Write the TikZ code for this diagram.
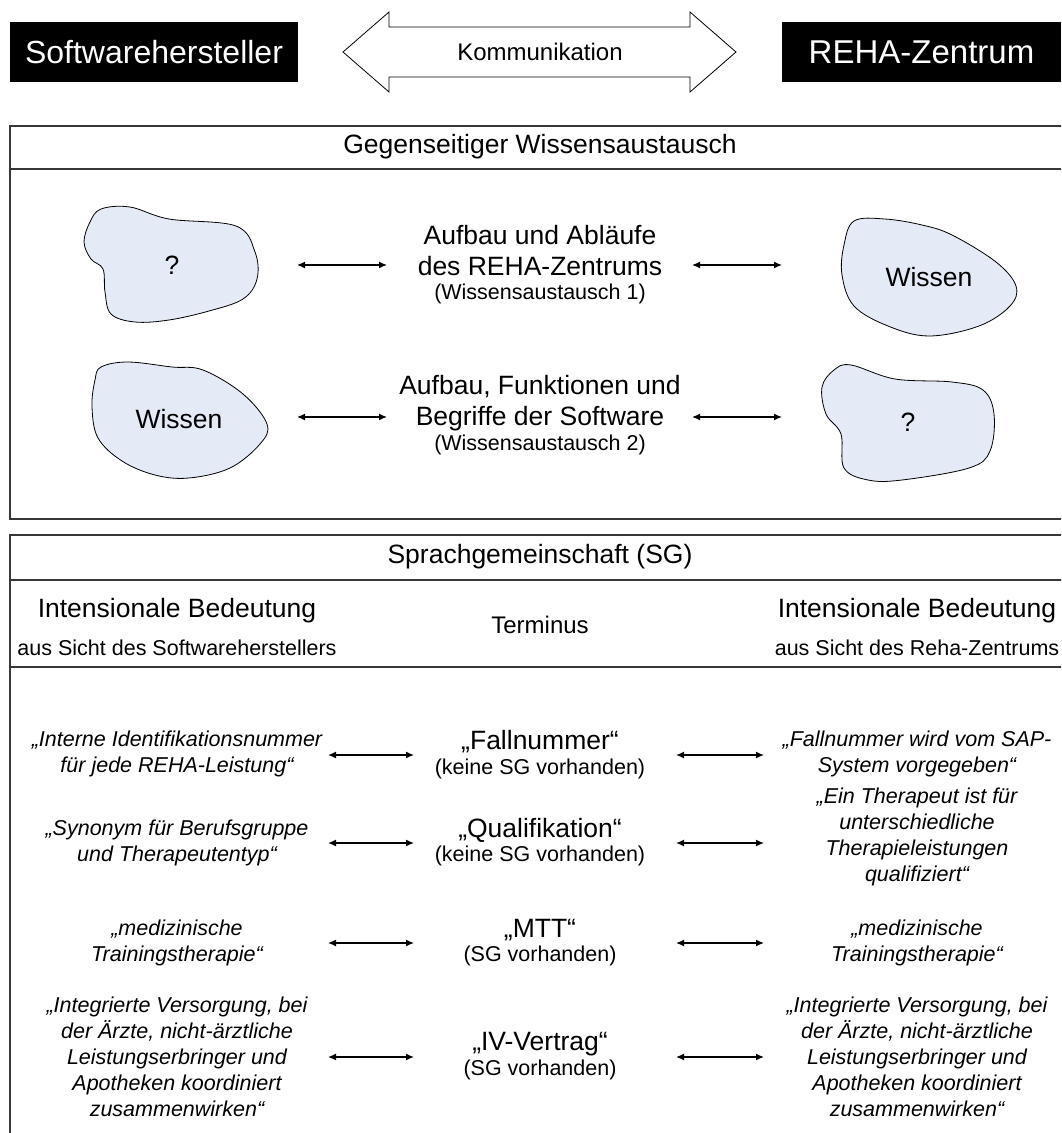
\documentclass[tikz,border=0pt]{standalone}
\usepackage{fontspec}
\setmainfont{Liberation Sans}
\usetikzlibrary{arrows.meta}
\definecolor{blobfill}{RGB}{228,234,246}
\definecolor{framegray}{RGB}{55,55,55}

\begin{document}
\begin{tikzpicture}[x=1pt,y=-1pt,
  big/.style={font=\fontsize{26.5}{31}\selectfont, inner sep=0pt, align=center},
  small/.style={font=\fontsize{21.5}{26}\selectfont, inner sep=0pt, align=center},
  quote/.style={font=\fontsize{21.5}{26}\selectfont\itshape, inner sep=0pt, align=center},
  party/.style={fill=black, text=white, font=\fontsize{32}{36}\selectfont, inner sep=0pt, minimum height=60pt},
  frame/.style={draw=framegray, line width=1.3pt},
  blob/.style={draw=black, fill=blobfill, line width=0.8pt},
  link/.style={{Latex[length=8pt,width=7pt]}-{Latex[length=8pt,width=7pt]}, line width=1.3pt},
]
\useasboundingbox (0,0) rectangle (1061,1133);
\clip (0,0) rectangle (1061,1133);

% --- the two parties and the communication arrow
\node[party, minimum width=288pt] (sw) at (154,52) {Softwarehersteller};
\node[party, minimum width=279pt, font=\fontsize{33}{36}\selectfont] (reha) at (921.5,52) {REHA-Zentrum};
\draw[line width=0.8pt, fill=white]
  (343,52) -- (389,12) -- (389,27) -- (690,27) -- (690,12) -- (736,52)
  -- (690,92) -- (690,77) -- (389,77) -- (389,92) -- cycle;
\node[small, font=\fontsize{24}{28}\selectfont] (komm) at (540,52) {Kommunikation};

% --- upper frame: mutual knowledge exchange
\draw[frame] (10,126) rectangle (1080,519);
\draw[frame] (10,169) -- (1080,169);
\node[big] (wa) at (540,147) {Gegenseitiger Wissensaustausch};

% knowledge blobs
\draw[blob] plot[smooth cycle, tension=0.6] coordinates {
  (101,209) (130,207) (169,219) (236,226) (255,252) (257,279) (243,299)
  (209,311) (169,320) (135,322) (111,314) (105,292) (103,269) (91,259)
  (84,242) (90,222)};
\node[big] (q1) at (172,265) {?};

\draw[blob] plot[smooth cycle, tension=0.6] coordinates {
  (101,367) (128,362) (172,367) (203,370) (243,394) (267,424) (260,444)
  (230,468) (189,478) (155,475) (122,461) (98,438) (92,407) (95,380)};
\node[big] (w2) at (179,419) {Wissen};

\draw[blob] plot[smooth cycle, tension=0.6] coordinates {
  (854,221) (885,219) (922,225) (952,235) (996,262) (1016,286) (1010,306)
  (979,326) (929,336) (888,326) (854,306) (842,275) (844,245)};
\node[big] (w1) at (929,277) {Wissen};

\draw[blob] plot[smooth cycle, tension=0.6] coordinates {
  (834,370) (851,365) (895,379) (952,382) (983,390) (994,414) (990,451)
  (969,468) (902,480) (868,480) (844,468) (841,434) (826,414) (822,387)};
\node[big] (q2) at (908,422) {?};

% exchange topics
\node[big] (t1) at (540,251) {Aufbau und Abläufe\\des REHA-Zentrums};
\node[small] (t1s) at (540,294) {(Wissensaustausch 1)};
\node[big] (t2) at (540,403) {Aufbau, Funktionen und\\Begriffe der Software};
\node[small] (t2s) at (540,445) {(Wissensaustausch 2)};

\coordinate (a1l) at (297,265); \coordinate (a1r) at (387,265);
\coordinate (b1l) at (692,265); \coordinate (b1r) at (782,265);
\coordinate (a2l) at (297,417); \coordinate (a2r) at (387,417);
\coordinate (b2l) at (692,417); \coordinate (b2r) at (782,417);
\draw[link] (a1l) -- (a1r);
\draw[link] (b1l) -- (b1r);
\draw[link] (a2l) -- (a2r);
\draw[link] (b2l) -- (b2r);

% --- lower frame: language community
\draw[frame] (10,535) rectangle (1080,1150);
\draw[frame] (10,580) -- (1080,580);
\draw[frame] (10,667) -- (1080,667);
\node[big] (sg) at (540,557) {Sprachgemeinschaft (SG)};

\node[big] (hl) at (177,611) {Intensionale Bedeutung};
\node[small] (hls) at (177,648) {aus Sicht des Softwareherstellers};
\node[big, font=\fontsize{24}{28}\selectfont] (hm) at (540,625) {Terminus};
\node[big] (hr) at (917,611) {Intensionale Bedeutung};
\node[small] (hrs) at (917,648) {aus Sicht des Reha-Zentrums};

% row 1
\node[quote] (l1) at (177,754) {„Interne Identifikationsnummer\\für jede REHA-Leistung“};
\node[big] (m1) at (540,742) {„Fallnummer“};
\node[small] (m1s) at (540,769) {(keine SG vorhanden)};
\node[quote] (r1) at (917,754) {„Fallnummer wird vom SAP-\\System vorgegeben“};
% row 2
\node[quote] (l2) at (177,843) {„Synonym für Berufsgruppe\\und Therapeutentyp“};
\node[big] (m2) at (540,830) {„Qualifikation“};
\node[small] (m2s) at (540,856) {(keine SG vorhanden)};
\node[quote] (r2) at (917,837) {„Ein Therapeut ist für\\unterschiedliche\\Therapieleistungen\\qualifiziert“};
% row 3
\node[quote] (l3) at (177,943) {„medizinische\\Trainingstherapie“};
\node[big] (m3) at (540,930) {„MTT“};
\node[small] (m3s) at (540,956) {(SG vorhanden)};
\node[quote] (r3) at (917,943) {„medizinische\\Trainingstherapie“};
% row 4
\node[quote] (l4) at (177,1057) {„Integrierte Versorgung, bei\\der Ärzte, nicht-ärztliche\\Leistungserbringer und\\Apotheken koordiniert\\zusammenwirken“};
\node[big] (m4) at (540,1044) {„IV-Vertrag“};
\node[small] (m4s) at (540,1070) {(SG vorhanden)};
\node[quote] (r4) at (917,1057) {„Integrierte Versorgung, bei\\der Ärzte, nicht-ärztliche\\Leistungserbringer und\\Apotheken koordiniert\\zusammenwirken“};

\foreach \i/\y in {1/755, 2/843, 3/943, 4/1057} {
  \coordinate (cl\i) at (328,\y); \coordinate (cm\i) at (414,\y);
  \coordinate (dm\i) at (676,\y); \coordinate (dr\i) at (764,\y);
  \draw[link] (cl\i) -- (cm\i);
  \draw[link] (dm\i) -- (dr\i);
}
\end{tikzpicture}
\end{document}
